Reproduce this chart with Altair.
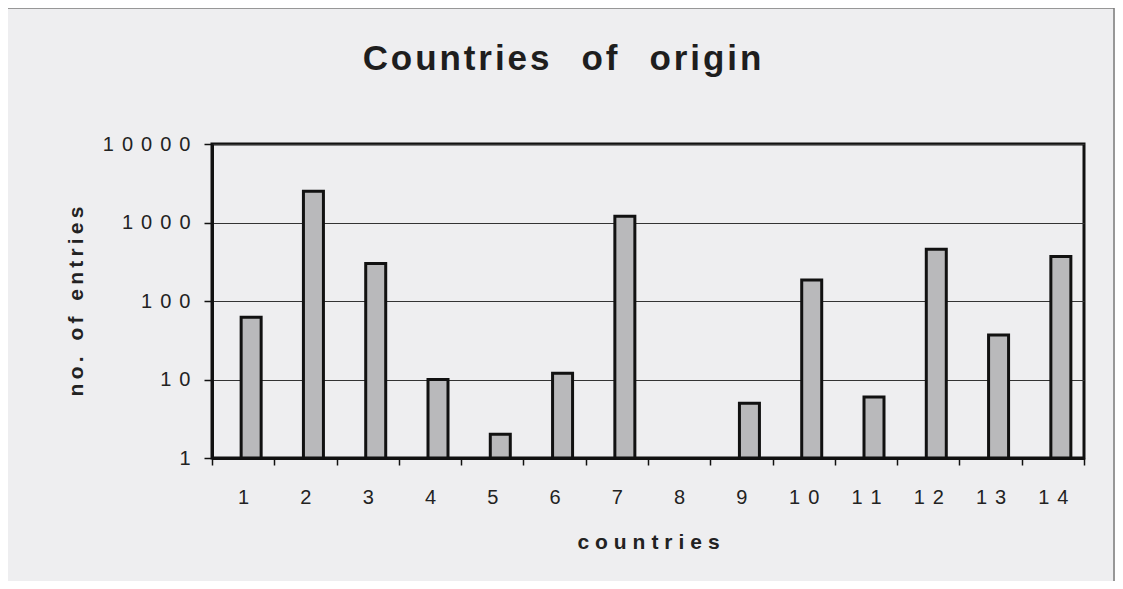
import altair as alt
import pandas as pd

countries = [1, 2, 3, 4, 5, 6, 7, 8, 9, 10, 11, 12, 13, 14]
entries = [62, 2500, 300, 10, 2, 12, 1200, None, 5, 185, 6, 455, 37, 370]
y_ticks = [1, 10, 100, 1000, 10000]
chart_title = "Countries of origin"

df = pd.DataFrame({"country": countries, "entries": entries})

FONT = "Liberation Sans"
THIN = "\u2009"
HAIR = "\u200a"


def spread(text, gap, word_gap="\u00a0\u00a0"):
    """Widen the letter spacing of a text, as in the scanned original."""
    words = text.split(" ")
    return (word_gap + gap).join(gap.join(w) for w in words)


x_labels = "replace(datum.label, regexp('(\\\\d)(?=\\\\d)', 'g'), '$1\u2009\u2009')"
y_labels = "replace(toString(datum.value), regexp('(\\\\d)(?=\\\\d)', 'g'), '$1\u2009\u2009')"

bars = alt.Chart(df).mark_bar(
    size=20, xOffset=8, fill="#b9b9bb", stroke="#111111", strokeWidth=3
).encode(
    x=alt.X(
        "country:O",
        scale=alt.Scale(domain=countries, paddingInner=0, paddingOuter=0),
        axis=alt.Axis(
            title=spread("countries", THIN + HAIR),
            labelAngle=0,
            tickBand="extent",
            labelExpr=x_labels,
            labelFontSize=20,
            labelPadding=22,
            tickSize=7,
            titlePadding=24,
        ),
    ),
    y=alt.Y(
        "entries:Q",
        scale=alt.Scale(type="log", domain=[1, 10000]),
        axis=alt.Axis(
            title=spread("no. of entries", THIN),
            values=y_ticks,
            labelExpr=y_labels,
            labelFontSize=20,
            labelPadding=14,
            tickSize=8,
            grid=True,
            titlePadding=16,
        ),
    ),
    y2=alt.Y2(datum=1),
)

one = pd.DataFrame({"t": [spread(chart_title, HAIR, "\u00a0\u00a0\u00a0")]})

title_mark = alt.Chart(one).mark_text(
    font=FONT, fontSize=35, fontWeight="bold", color="#1e1e1e",
    align="center", baseline="alphabetic",
).encode(x=alt.value(350), y=alt.value(-74), text="t:N")

frame_left = alt.Chart(one).mark_rule(color="#7a7a7a", strokeWidth=1.5).encode(
    x=alt.value(-205), y=alt.value(-136), y2=alt.value(437)
)
frame_top = alt.Chart(one).mark_rule(color="#7a7a7a", strokeWidth=1.5).encode(
    x=alt.value(-205), x2=alt.value(902), y=alt.value(-136)
)
frame_right = alt.Chart(one).mark_rule(color="#7a7a7a", strokeWidth=1.5).encode(
    x=alt.value(902), y=alt.value(-136), y2=alt.value(437)
)

chart = (
    alt.layer(bars, title_mark, frame_left, frame_top, frame_right)
    .properties(
        width=872,
        height=314,
        autosize=alt.AutoSizeParams(type="none"),
        padding={"left": 204, "top": 136, "right": 31, "bottom": 123},
        background="#eeeef0",
    )
    .configure_view(stroke="#111111", strokeWidth=3)
    .configure_axis(
        labelFont=FONT,
        titleFont=FONT,
        titleFontSize=21,
        titleFontWeight="bold",
        titleColor="#222222",
        labelColor="#222222",
        domainColor="#111111",
        domainWidth=3,
        tickColor="#111111",
        tickWidth=1.5,
        gridColor="#333333",
        gridWidth=1,
    )
)

chart.save("out.html", embed_options={"renderer": "svg", "actions": False})
